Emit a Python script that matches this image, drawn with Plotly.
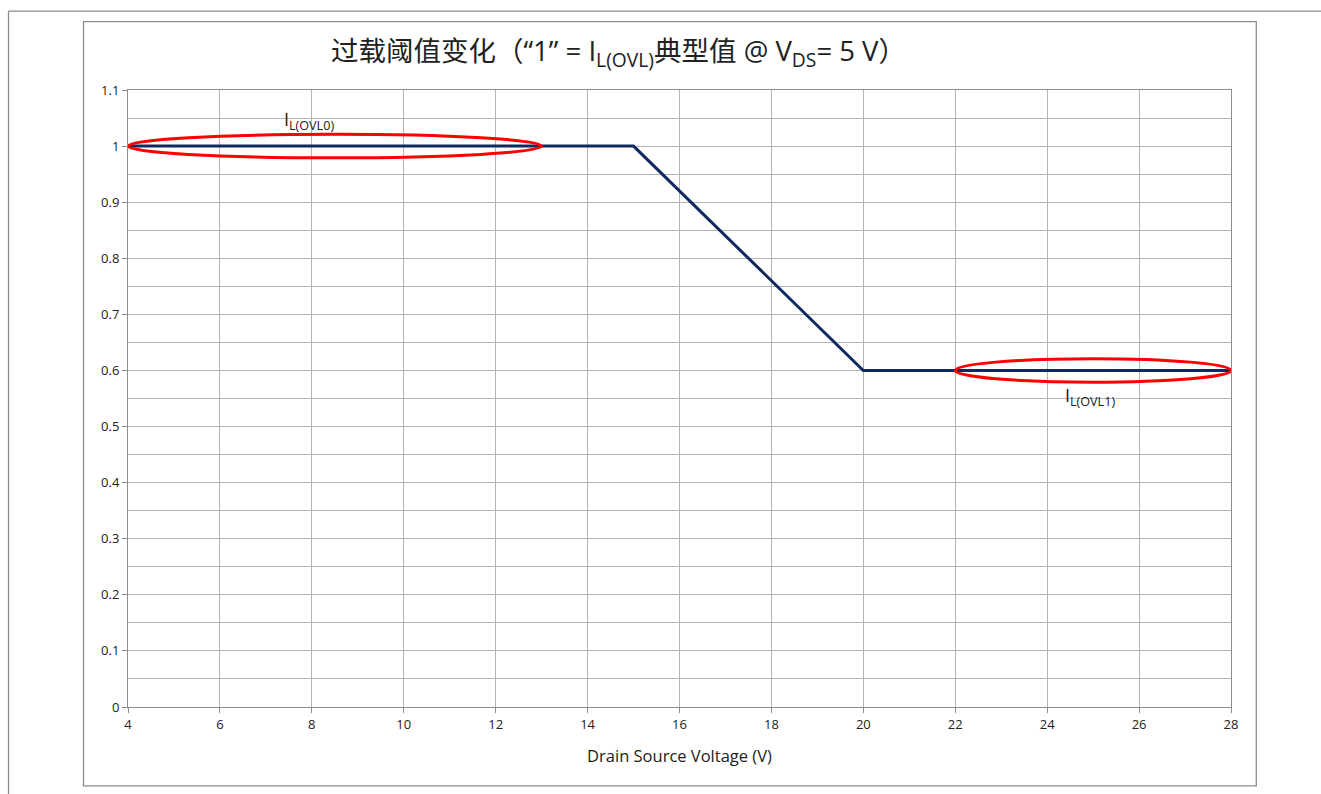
import plotly.graph_objects as go

# Data
voltage = [4, 15, 20, 28]
threshold = [1.0, 1.0, 0.6, 0.6]
x_ticks = [4, 6, 8, 10, 12, 14, 16, 18, 20, 22, 24, 26, 28]
y_ticks = [0, 0.1, 0.2, 0.3, 0.4, 0.5, 0.6, 0.7, 0.8, 0.9, 1, 1.1]
y_tick_labels = ["0", "0.1", "0.2", "0.3", "0.4", "0.5", "0.6", "0.7", "0.8", "0.9", "1", "1.1"]
ellipse0_x = [4, 13]
ellipse0_level = 1.0
ellipse1_x = [22, 28]
ellipse1_level = 0.6
title_text = "过载阈值变化（“1” = I<sub>L(OVL)</sub>典型值 @ V<sub>DS</sub>= 5 V）"
x_title = "Drain Source Voltage (V)"
label0 = "I<sub>L(OVL0)</sub>"
label1 = "I<sub>L(OVL1)</sub>"

W, H = 1321, 794
L, R, T, B = 127.5, 90.3, 89.5, 87

FONT = "Open Sans, Noto Sans CJK SC, sans-serif"

fig = go.Figure()
fig.add_trace(go.Scatter(x=voltage, y=threshold, mode="lines",
                         line=dict(color="#0f2a5e", width=3), showlegend=False,
                         hoverinfo="skip"))

half = 0.021
fig.add_shape(type="circle", xref="x", yref="y",
              x0=ellipse0_x[0], x1=ellipse0_x[1],
              y0=ellipse0_level - half, y1=ellipse0_level + half,
              line=dict(color="#ff0000", width=3))
fig.add_shape(type="circle", xref="x", yref="y",
              x0=ellipse1_x[0], x1=ellipse1_x[1],
              y0=ellipse1_level - half, y1=ellipse1_level + half,
              line=dict(color="#ff0000", width=3))

def px(xp):
    return (xp - L) / (W - L - R)

def py(yp):
    return 1 - (yp - T) / (H - T - B)

# outer frame lines (paper coords from pixels)
fig.add_shape(type="line", xref="paper", yref="paper",
              x0=px(8), x1=px(1321), y0=py(10.5), y1=py(10.5),
              line=dict(color="#8c8c8c", width=1.3))
fig.add_shape(type="line", xref="paper", yref="paper",
              x0=px(8), x1=px(8), y0=py(10.5), y1=py(794),
              line=dict(color="#8c8c8c", width=1.3))
# inner chart box
fig.add_shape(type="rect", xref="paper", yref="paper",
              x0=px(83), x1=px(1256), y0=py(786), y1=py(21),
              line=dict(color="#8c8c8c", width=1.3), layer="below")

fig.add_annotation(text=title_text, xref="paper", yref="paper",
                   x=px(618), y=py(52), showarrow=False,
                   font=dict(family=FONT, size=27.5, color="#222222"),
                   xanchor="center", yanchor="middle")
fig.add_annotation(text=label0, xref="x", yref="y", x=7.35, y=1.045,
                   showarrow=False, xanchor="left", yanchor="middle",
                   font=dict(family=FONT, size=18, color="#222222"))
fig.add_annotation(text=label1, xref="x", yref="y", x=24.35, y=0.553,
                   showarrow=False, xanchor="left", yanchor="middle",
                   font=dict(family=FONT, size=18, color="#222222"))

fig.update_layout(
    width=W, height=H,
    margin=dict(l=L, r=R, t=T, b=B, pad=0),
    paper_bgcolor="white", plot_bgcolor="white",
    font=dict(family=FONT, size=13, color="#222222"),
    xaxis=dict(range=[4, 28], tickvals=x_ticks, ticktext=[str(v) for v in x_ticks],
               showgrid=True, gridcolor="#b4b4b4", gridwidth=1,
               showline=True, linecolor="#8c8c8c", linewidth=1,
               ticks="outside", ticklen=5, tickcolor="#8c8c8c",
               zeroline=False, mirror=True,
               title=dict(text=x_title, font=dict(size=16.5), standoff=18),
               tickfont=dict(size=13)),
    yaxis=dict(range=[0, 1.1], tickvals=y_ticks, ticktext=y_tick_labels,
               showgrid=True, gridcolor="#b4b4b4", gridwidth=1,
               showline=True, linecolor="#8c8c8c", linewidth=1,
               ticks="outside", ticklen=5, tickcolor="#8c8c8c",
               zeroline=False, mirror=True,
               minor=dict(dtick=0.05, showgrid=True, gridcolor="#b4b4b4", gridwidth=1, ticks=""),
               tickfont=dict(size=13)),
)

fig.write_html("out.html", config={"displayModeBar": False},
               post_script="document.body.style.margin='0';")
